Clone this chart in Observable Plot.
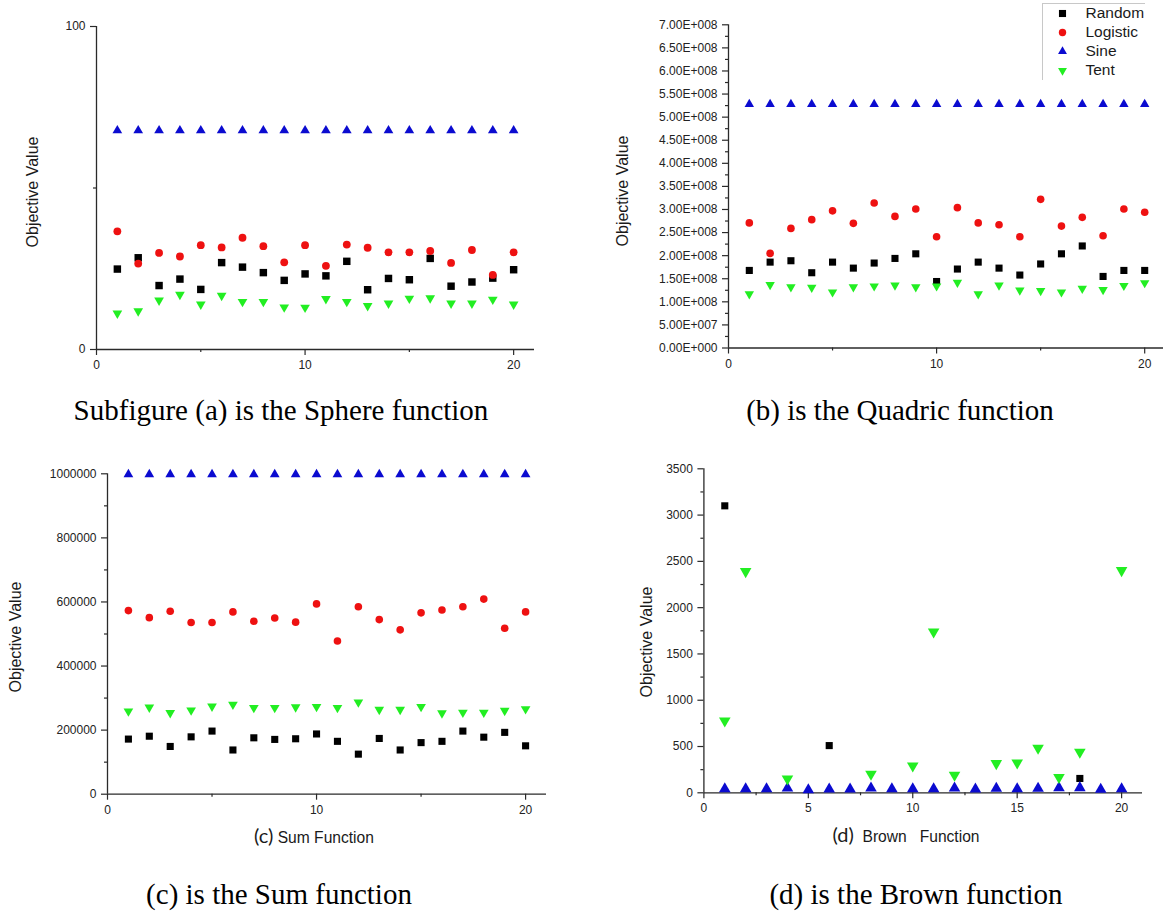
<!DOCTYPE html>
<html>
<head>
<meta charset="utf-8">
<script src="https://cdn.jsdelivr.net/npm/d3@7"></script>
<script src="https://cdn.jsdelivr.net/npm/@observablehq/plot@0.6"></script>
<style>
  html, body { margin: 0; padding: 0; background: #fff; overflow: hidden; }
  #root { position: relative; width: 1163px; height: 915px; overflow: hidden; background: #fff; }
  .abs { position: absolute; }
  .ylab { font-family: "Liberation Sans", Arial, sans-serif; font-size: 16px; color: #1a1a1a; white-space: nowrap;
          line-height: 16px; transform: translate(-50%, -50%) rotate(-90deg); }
  .cap { font-family: "Liberation Serif", "Times New Roman", serif; font-size: 29px; line-height: 29px; color: #000;
         white-space: nowrap; transform: translateX(-50%); }
  .xlab { font-family: "Liberation Sans", Arial, sans-serif; font-size: 15.6px; line-height: 20px; color: #1a1a1a;
          white-space: pre; transform: translateX(-50%); }
  .xlab .tag { font-family: Lato, "Open Sans", sans-serif; font-size: 20px; }
  .hline { position: absolute; background: #c8c8c8; }
</style>
</head>
<body>
<div id="root"></div>
<script>
// ---------- data ----------
const runs = [1, 2, 3, 4, 5, 6, 7, 8, 9, 10, 11, 12, 13, 14, 15, 16, 17, 18, 19, 20];
const seriesNames = ["Random", "Logistic", "Sine", "Tent"];
const seriesColors = ["#000000", "#ee1111", "#0b0bd0", "#22ee22"];
const seriesSymbols = ["square", "circle", "triangle", "triangle"];
const seriesRotate = [0, 0, 0, 180];

// (a) Sphere
const aRandom   = [24.9, 28.4, 19.8, 21.8, 18.6, 26.9, 25.5, 23.8, 21.4, 23.4, 22.8, 27.3, 18.5, 22.0, 21.6, 28.2, 19.6, 20.9, 22.1, 24.7];
const aLogistic = [36.6, 26.6, 29.9, 28.8, 32.3, 31.6, 34.6, 32.0, 27.0, 32.3, 25.9, 32.5, 31.5, 30.1, 30.1, 30.5, 26.8, 30.8, 23.1, 30.1];
const aSine     = [67.8, 67.8, 67.8, 67.8, 67.8, 67.8, 67.8, 67.8, 67.8, 67.8, 67.8, 67.8, 67.8, 67.8, 67.8, 67.8, 67.8, 67.8, 67.8, 67.8];
const aTent     = [11.2, 11.9, 15.2, 17.0, 14.0, 16.7, 14.8, 14.8, 13.1, 13.0, 15.7, 14.8, 13.5, 14.3, 15.8, 15.9, 14.3, 14.3, 15.5, 14.0];

// (b) Quadric
const bRandom   = [1.68e8, 1.86e8, 1.89e8, 1.63e8, 1.86e8, 1.73e8, 1.84e8, 1.94e8, 2.04e8, 1.44e8, 1.71e8, 1.86e8, 1.73e8, 1.58e8, 1.82e8, 2.04e8, 2.21e8, 1.55e8, 1.68e8, 1.68e8];
const bLogistic = [2.71e8, 2.05e8, 2.59e8, 2.78e8, 2.97e8, 2.70e8, 3.14e8, 2.85e8, 3.01e8, 2.41e8, 3.04e8, 2.71e8, 2.67e8, 2.41e8, 3.22e8, 2.64e8, 2.83e8, 2.43e8, 3.01e8, 2.94e8];
const bSine     = [5.28e8, 5.28e8, 5.28e8, 5.28e8, 5.28e8, 5.28e8, 5.28e8, 5.28e8, 5.28e8, 5.28e8, 5.28e8, 5.28e8, 5.28e8, 5.28e8, 5.28e8, 5.28e8, 5.28e8, 5.28e8, 5.28e8, 5.28e8];
const bTent     = [1.17e8, 1.37e8, 1.32e8, 1.31e8, 1.21e8, 1.32e8, 1.34e8, 1.36e8, 1.32e8, 1.34e8, 1.42e8, 1.17e8, 1.36e8, 1.25e8, 1.24e8, 1.21e8, 1.29e8, 1.26e8, 1.35e8, 1.41e8];

// (c) Sum
const cRandom   = [172000, 181000, 149000, 179000, 197000, 138000, 176000, 171000, 173000, 188000, 165000, 125000, 174000, 138000, 161000, 165000, 197000, 178000, 193000, 151000];
const cLogistic = [573000, 551000, 571000, 536000, 536000, 569000, 540000, 550000, 537000, 594000, 478000, 585000, 545000, 513000, 566000, 575000, 585000, 609000, 518000, 569000];
const cSine     = [998000, 998000, 998000, 998000, 998000, 998000, 998000, 998000, 998000, 998000, 998000, 998000, 998000, 998000, 998000, 998000, 998000, 998000, 998000, 998000];
const cTent     = [259000, 271000, 254000, 262000, 274000, 280000, 270000, 270000, 272000, 273000, 270000, 287000, 264000, 264000, 273000, 253000, 255000, 255000, 261000, 266000];

// (d) Brown (null = hidden under other markers, not readable)
const dRandom   = [3100, null, null, null, null, 510, null, null, null, null, null, null, null, null, null, null, null, 155, null, null];
const dLogistic = [null, null, null, null, null, null, null, null, null, null, null, null, null, null, null, null, null, null, null, null];
const dSine     = [43, 43, 43, 50, 32, 40, 40, 50, 43, 43, 43, 50, 40, 47, 43, 47, 54, 54, 36, 43];
const dTent     = [778, 2391, null, 151, null, null, null, 202, null, 292, 1739, 191, null, 317, 324, 483, 166, 439, null, 2402];

// tick values and labels
const xTicksA = [0, 10, 20], xMinorA = [5, 15];
const yTicksA = [0, 100], yLabelsA = ["0", "100"], yMinorA = [50];

const xTicksB = [0, 10, 20], xMinorB = [5, 15];
const yTicksB = [0, 5e7, 1e8, 1.5e8, 2e8, 2.5e8, 3e8, 3.5e8, 4e8, 4.5e8, 5e8, 5.5e8, 6e8, 6.5e8, 7e8];
const yLabelsB = ["0.00E+000", "5.00E+007", "1.00E+008", "1.50E+008", "2.00E+008", "2.50E+008", "3.00E+008",
                  "3.50E+008", "4.00E+008", "4.50E+008", "5.00E+008", "5.50E+008", "6.00E+008", "6.50E+008", "7.00E+008"];
const yMinorB = [2.5e7, 7.5e7, 1.25e8, 1.75e8, 2.25e8, 2.75e8, 3.25e8, 3.75e8, 4.25e8, 4.75e8, 5.25e8, 5.75e8, 6.25e8, 6.75e8];

const xTicksC = [0, 10, 20], xMinorC = [5, 15];
const yTicksC = [0, 200000, 400000, 600000, 800000, 1000000];
const yLabelsC = ["0", "200000", "400000", "600000", "800000", "1000000"];
const yMinorC = [100000, 300000, 500000, 700000, 900000];

const xTicksD = [0, 5, 10, 15, 20], xMinorD = [2.5, 7.5, 12.5, 17.5];
const yTicksD = [0, 500, 1000, 1500, 2000, 2500, 3000, 3500];
const yLabelsD = ["0", "500", "1000", "1500", "2000", "2500", "3000", "3500"];
const yMinorD = [250, 750, 1250, 1750, 2250, 2750, 3250];

// ---------- drawing ----------
const root = document.getElementById("root");
const AX = "#2a2a2a";

function rowsFor(arrs) {
  return seriesNames.map((name, si) =>
    arrs[si].map((v, i) => ({run: runs[i], value: v, series: name})).filter(d => d.value != null));
}

function place(el, left, top) {
  el.style.position = "absolute";
  el.style.left = left + "px";
  el.style.top = top + "px";
  root.appendChild(el);
}

function makePanel(p) {
  const groups = rowsFor(p.values);
  const xLab = new Map(p.xTicks.map(d => [d, String(d)]));
  const yLab = new Map(p.yTicks.map((d, i) => [d, p.yLabels[i]]));
  const marks = [
    Plot.ruleX([0], {stroke: AX, strokeWidth: 1.3}),
    Plot.ruleY([0], {stroke: AX, strokeWidth: 1.3}),
    Plot.axisX(p.xMinor, {anchor: "bottom", tickSize: 3, tickFormat: () => "", label: null, stroke: AX, strokeWidth: 1.2}),
    Plot.axisY(p.yMinor, {anchor: "left", tickSize: 3, tickFormat: () => "", label: null, stroke: AX, strokeWidth: 1.2}),
    Plot.axisX(p.xTicks, {anchor: "bottom", tickSize: 6, tickPadding: 5, tickFormat: d => xLab.get(d), label: null,
                          stroke: AX, strokeWidth: 1.2, fontSize: 12}),
    Plot.axisY(p.yTicks, {anchor: "left", tickSize: 6, tickPadding: 5, tickFormat: d => yLab.get(d), label: null,
                          stroke: AX, strokeWidth: 1.2, fontSize: 12}),
    ...groups.map((g, si) => Plot.dot(g, {
      x: "run", y: "value",
      symbol: seriesSymbols[si], rotate: seriesRotate[si],
      r: p.r[si], fill: seriesColors[si], stroke: "none"
    }))
  ];
  const chart = Plot.plot({
    width: p.width, height: p.height,
    marginLeft: p.mL, marginRight: p.mR, marginTop: p.mT, marginBottom: p.mB,
    x: {domain: [0, 21]},
    y: {domain: p.yDomain},
    style: {fontFamily: '"Liberation Sans", Arial, sans-serif', fontSize: "12px", color: "#222", background: "transparent", overflow: "visible"},
    marks
  });
  place(chart, p.left, p.top);
}

// (a)
makePanel({
  values: [aRandom, aLogistic, aSine, aTent],
  xTicks: xTicksA, xMinor: xMinorA, yTicks: yTicksA, yLabels: yLabelsA, yMinor: yMinorA,
  yDomain: [0, 100], r: [4.2, 3.9, 3.6, 3.6],
  left: 0, top: 0, width: 560, height: 390, mL: 96, mR: 26, mT: 26, mB: 41
});
// (b)
makePanel({
  values: [bRandom, bLogistic, bSine, bTent],
  xTicks: xTicksB, xMinor: xMinorB, yTicks: yTicksB, yLabels: yLabelsB, yMinor: yMinorB,
  yDomain: [0, 7e8], r: [4.0, 3.8, 3.5, 3.5],
  left: 581, top: 0, width: 584, height: 390, mL: 147, mR: 0, mT: 24.3, mB: 42.5
});
// (c)
makePanel({
  values: [cRandom, cLogistic, cSine, cTent],
  xTicks: xTicksC, xMinor: xMinorC, yTicks: yTicksC, yLabels: yLabelsC, yMinor: yMinorC,
  yDomain: [0, 1000000], r: [4.0, 3.8, 3.6, 3.6],
  left: 0, top: 440, width: 560, height: 400, mL: 107, mR: 14, mT: 33.3, mB: 46.3
});
// (d)
makePanel({
  values: [dRandom, dLogistic, dSine, dTent],
  xTicks: xTicksD, xMinor: xMinorD, yTicks: yTicksD, yLabels: yLabelsD, yMinor: yMinorD,
  yDomain: [0, 3500], r: [4.0, 3.8, 4.3, 4.3],
  left: 581, top: 440, width: 582, height: 400, mL: 122.4, mR: 21, mT: 28.3, mB: 47.7
});

// legend (panel b)
const legend = Plot.plot({
  width: 121, height: 84, margin: 0,
  x: {domain: [0, 1], range: [20, 43], axis: null},
  y: {type: "point", domain: seriesNames, range: [12.7, 71.3], padding: 0, axis: null},
  style: {fontFamily: '"Liberation Sans", Arial, sans-serif', background: "transparent", overflow: "visible"},
  marks: [
    ...seriesNames.map((name, si) => Plot.dot([name], {
      x: () => 0, y: d => d, symbol: seriesSymbols[si], rotate: seriesRotate[si],
      r: [4.0, 3.7, 3.3, 3.3][si], fill: seriesColors[si], stroke: "none"
    })),
    Plot.text(seriesNames, {x: () => 1, y: d => d, text: d => d, textAnchor: "start", fontSize: 15.5, fill: "#1a1a1a"})
  ]
});
place(legend, 1042, 0);
{
  const top = document.createElement("div"); top.className = "hline";
  Object.assign(top.style, {left: "1042px", top: "3px", width: "103px", height: "1px"});
  root.appendChild(top);
  const lft = document.createElement("div"); lft.className = "hline";
  Object.assign(lft.style, {left: "1042px", top: "3px", width: "1px", height: "77px"});
  root.appendChild(lft);
}

// axis titles
function yTitle(x, y) {
  const d = document.createElement("div");
  d.className = "abs ylab"; d.textContent = "Objective Value";
  d.style.left = x + "px"; d.style.top = y + "px";
  root.appendChild(d);
}
yTitle(33, 192); yTitle(623, 191); yTitle(16, 637); yTitle(647, 642);

function xTitle(x, top, tag, rest) {
  const d = document.createElement("div");
  d.className = "abs xlab";
  d.style.left = x + "px"; d.style.top = top + "px";
  const t = document.createElement("span"); t.className = "tag"; t.textContent = tag;
  const r = document.createElement("span"); r.textContent = rest;
  d.appendChild(t); d.appendChild(r);
  root.appendChild(d);
}
xTitle(314, 825, "(c)", " Sum Function");
xTitle(906, 824, "(d)", "  Brown   Function");

// captions
function caption(x, top, text) {
  const d = document.createElement("div");
  d.className = "abs cap"; d.textContent = text;
  d.style.left = x + "px"; d.style.top = top + "px";
  root.appendChild(d);
}
caption(281, 396, "Subfigure (a) is the Sphere function");
caption(900, 396, "(b) is the Quadric function");
caption(279, 880, "(c) is the Sum function");
caption(916, 880, "(d) is the Brown function");
</script>
</body>
</html>
